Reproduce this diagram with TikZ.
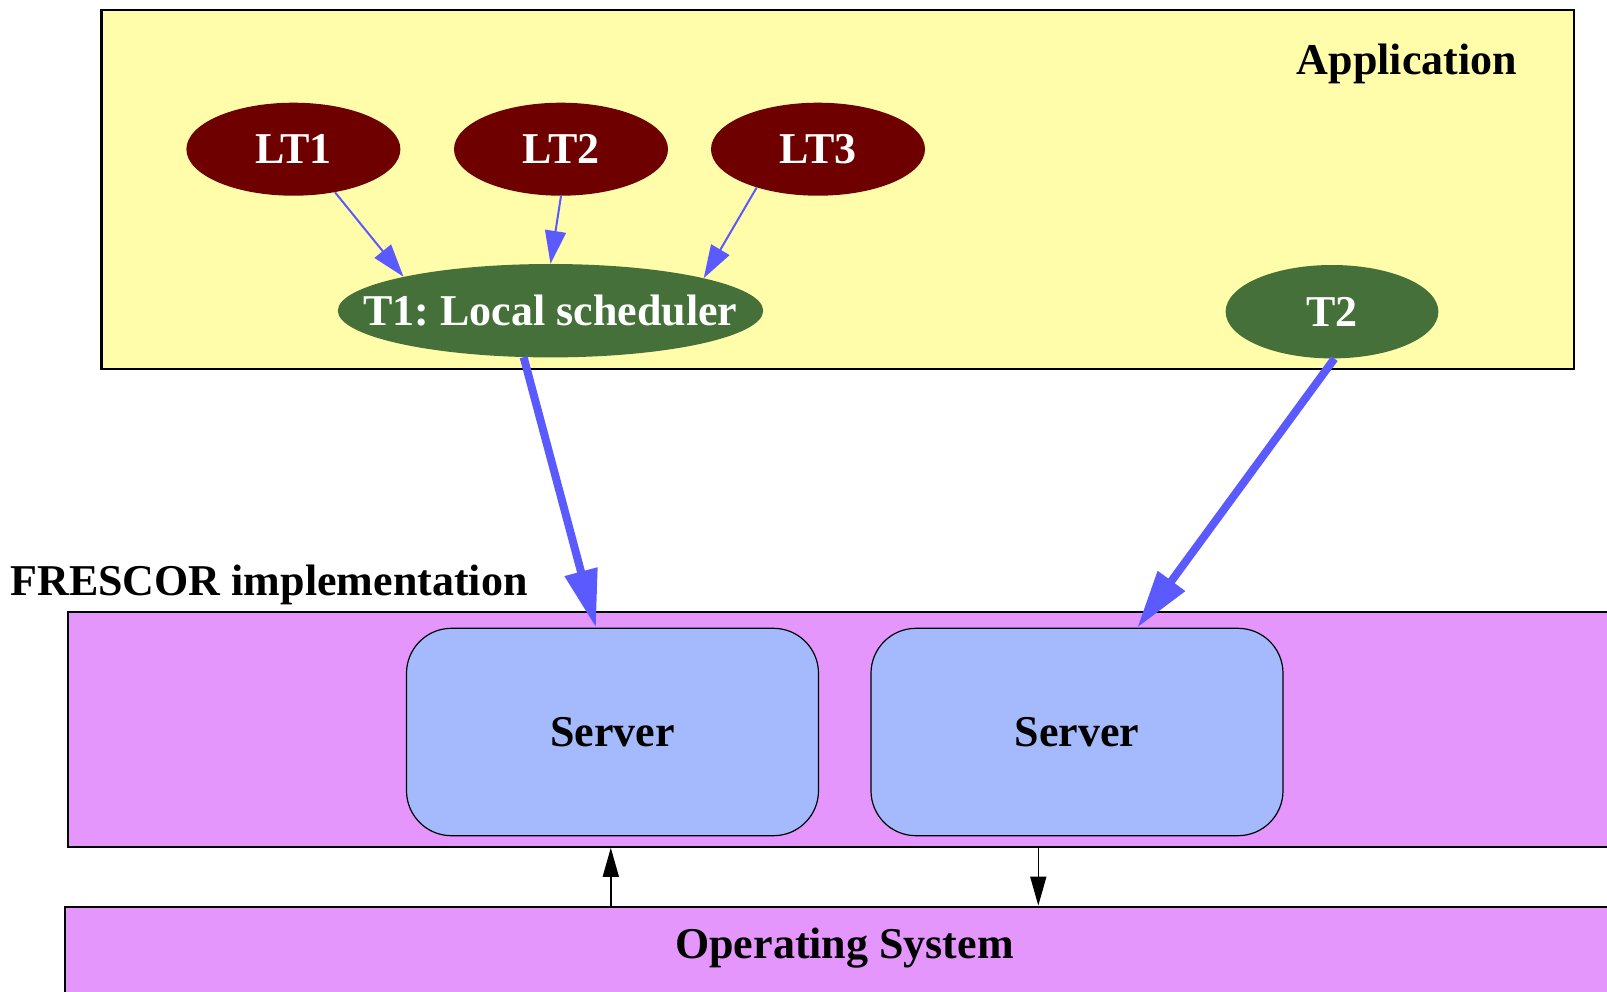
\documentclass[tikz,border=0pt]{standalone}
\usepackage{fontspec}
\setmainfont{Liberation Serif}
\usetikzlibrary{shapes.geometric,arrows.meta}
\definecolor{appyellow}{HTML}{FFFCAA}
\definecolor{frpink}{HTML}{E496FC}
\definecolor{srvblue}{HTML}{A4BAFC}
\definecolor{ltred}{HTML}{6E0000}
\definecolor{tgreen}{HTML}{46703A}
\definecolor{arrblue}{HTML}{5A5AFF}
\frenchspacing
\begin{document}
\begin{tikzpicture}[x=1pt,y=-1pt,
  every node/.style={font=\bfseries\fontsize{44}{50}\selectfont},
  cluster/.style={draw=black, line width=2.2pt, inner sep=0pt, rectangle},
  ltnode/.style={ellipse, fill=ltred, text=white, minimum width=214pt, minimum height=93pt, inner sep=0pt},
  tnode/.style={ellipse, fill=tgreen, text=white, minimum height=93.4pt, inner sep=0pt},
  srv/.style={draw=black, line width=1.2pt, fill=srvblue, rounded corners=45pt, minimum width=412pt, minimum height=207.4pt, inner sep=0pt},
  thinarr/.style={draw=arrblue, line width=2pt, -{Triangle[length=33pt,width=21pt]}},
  thickarr/.style={draw=arrblue, line width=8pt, -{Triangle[length=58pt,width=32pt]}},
  osarr/.style={draw=black, line width=1.5pt, -{Triangle[length=29pt,width=16pt]}}
]
\useasboundingbox (0,0) rectangle (1607,991);
\clip (0,0) rectangle (1607,991);

% clusters
\node[cluster, fill=appyellow, minimum width=1472.8pt, minimum height=358.8pt] (app) at (837.9,189.6) {};
\node[cluster, fill=frpink, minimum width=1582.3pt, minimum height=235pt] (fres) at (858.85,729.2) {};
\node[cluster, fill=frpink, minimum width=1585.1pt, minimum height=143.3pt] (os) at (857.45,978.35) {};

% cluster labels
\node[anchor=base, inner sep=0pt] (applbl) at (1407,74) {Application};
\node[anchor=base west, inner sep=0pt] (freslbl) at (10.3,595) {FRESCOR implementation};
\node[anchor=base, inner sep=0pt] (oslbl) at (844.5,958) {Operating System};

% task nodes
\node[ltnode] (lt1) at (293.4,149.2) {\makebox[0pt]{LT1}};
\node[ltnode] (lt2) at (561,149.2) {\makebox[0pt]{LT2}};
\node[ltnode] (lt3) at (818,149.2) {\makebox[0pt]{LT3}};
\node[tnode, minimum width=425.4pt] (t1) at (550.5,310.7) {\makebox[0pt]{T1: Local scheduler}};
\node[tnode, minimum width=212.8pt] (t2) at (1332,311.7) {\makebox[0pt]{T2}};

% servers
\node[srv] (s1) at (612.5,732) {Server};
\node[srv] (s2) at (1077,732) {Server};

% connectors
\draw[thinarr] (lt1.-46) -- (t1.167);
\draw[thinarr] (lt2.-90) -- (t1.90);
\draw[thinarr] (lt3.212) -- (t1.12.5);
\draw[thickarr] (t1.-120) -- (s1.99.6);
\draw[thickarr] (t2.-87) -- (s2.60.2);

\coordinate (upx) at (610.8,0);
\coordinate (downx) at (1038.3,0);
\draw[osarr] (os.north -| upx) -- (fres.south -| upx);
\draw[osarr] (fres.south -| downx) -- (os.north -| downx);
\end{tikzpicture}
\end{document}
